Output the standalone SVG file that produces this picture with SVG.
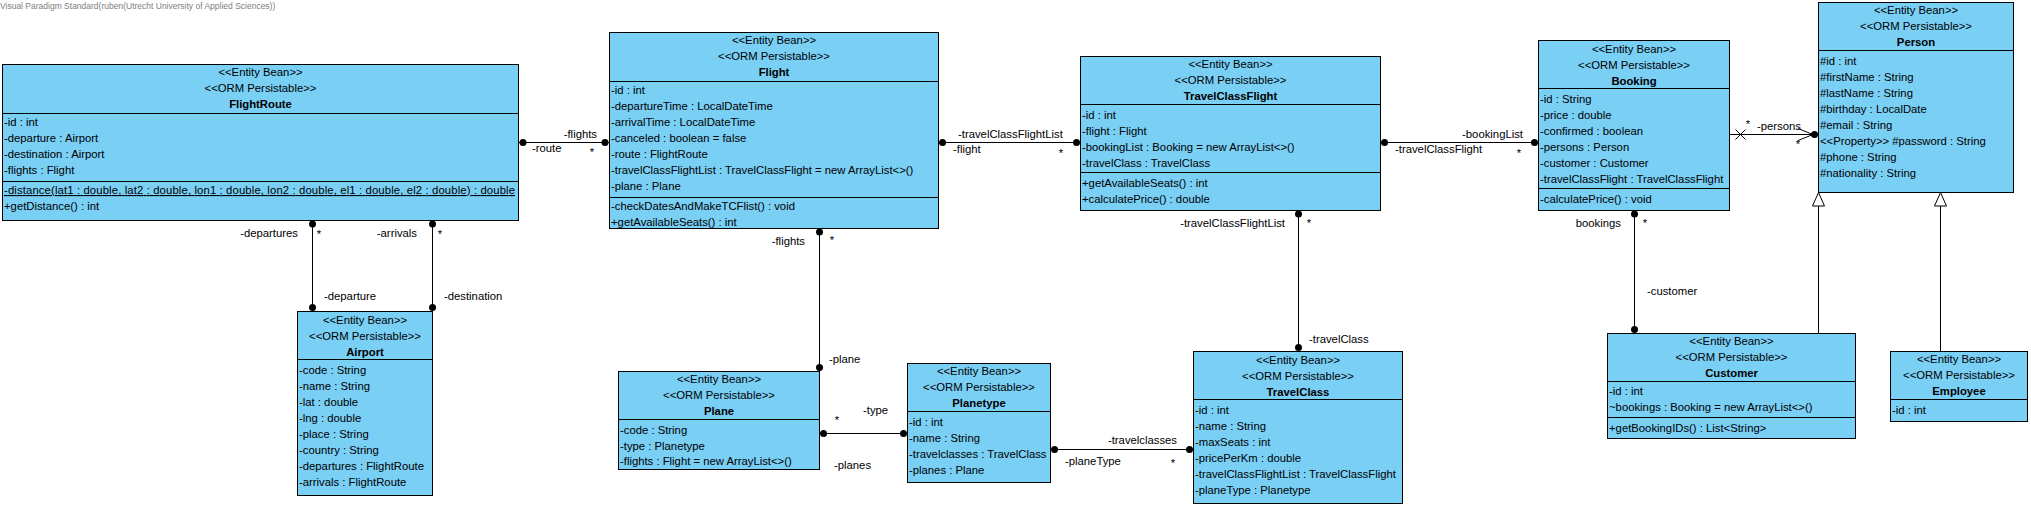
<svg xmlns="http://www.w3.org/2000/svg" width="2031" height="507" viewBox="0 0 2031 507">
<style>
.box{fill:#7acff5;stroke:#000;stroke-width:1}
.sep{stroke:#000;stroke-width:1}
text{font-family:"Liberation Sans",Arial,sans-serif;font-size:11.3px;fill:#000}
.c{text-anchor:middle}
.e{text-anchor:end}
.b{font-weight:bold}
.conn line,.conn polyline{stroke:#000;stroke-width:1;fill:none}
.dot{fill:#000}
.tri{fill:#fff;stroke:#000;stroke-width:1}
.wm{font-size:8.5px;fill:#808080}
</style>
<rect width="2031" height="507" fill="#fff"/>
<text class="wm" x="0" y="9">Visual Paradigm Standard(ruben(Utrecht University of Applied Sciences))</text>

<g id="connectors" class="conn">
  <line x1="518.5" y1="142.5" x2="609.5" y2="142.5"/>
  <circle class="dot" cx="523" cy="142.5" r="3.5"/><circle class="dot" cx="605" cy="142.5" r="3.5"/>
  <text class="e" x="597" y="138">-flights</text><text x="532" y="152">-route</text><text class="c" x="592" y="156">*</text>

  <line x1="938.5" y1="142.5" x2="1080.5" y2="142.5"/>
  <circle class="dot" cx="942.5" cy="142.5" r="3.5"/><circle class="dot" cx="1076.5" cy="142.5" r="3.5"/>
  <text x="958" y="137.5">-travelClassFlightList</text><text x="953" y="152.5">-flight</text><text class="c" x="1061" y="156.5">*</text>

  <line x1="1380.5" y1="142.5" x2="1538.5" y2="142.5"/>
  <circle class="dot" cx="1384.5" cy="142.5" r="3.5"/><circle class="dot" cx="1534.5" cy="142.5" r="3.5"/>
  <text class="e" x="1523" y="137.5">-bookingList</text><text x="1395" y="153">-travelClassFlight</text><text class="c" x="1519" y="156.5">*</text>

  <line x1="1729.5" y1="134.5" x2="1818.5" y2="134.5"/>
  <line x1="1735.5" y1="129.5" x2="1745.5" y2="139.5"/><line x1="1735.5" y1="139.5" x2="1745.5" y2="129.5"/>
  <polyline points="1798,128.5 1813,134.5 1798,140.5"/>
  <circle class="dot" cx="1814.5" cy="134.5" r="3.5"/>
  <text class="c" x="1748" y="128">*</text><text x="1757" y="130">-persons</text><text class="c" x="1798" y="148">*</text>

  <line x1="312.5" y1="220.5" x2="312.5" y2="311.5"/>
  <circle class="dot" cx="312.5" cy="224" r="3.5"/><circle class="dot" cx="312.5" cy="307.5" r="3.5"/>
  <text class="e" x="298" y="237">-departures</text><text class="c" x="319" y="238">*</text><text x="324" y="300">-departure</text>

  <line x1="432.5" y1="220.5" x2="432.5" y2="311.5"/>
  <circle class="dot" cx="432.5" cy="224" r="3.5"/><circle class="dot" cx="432.5" cy="307.5" r="3.5"/>
  <text class="e" x="417" y="237">-arrivals</text><text class="c" x="440" y="238">*</text><text x="444" y="300">-destination</text>

  <line x1="819.5" y1="228.5" x2="819.5" y2="371.5"/>
  <circle class="dot" cx="819.5" cy="232" r="3.5"/><circle class="dot" cx="819.5" cy="367.5" r="3.5"/>
  <text class="e" x="805" y="244.5">-flights</text><text class="c" x="832" y="243.5">*</text><text x="829" y="362.5">-plane</text>

  <line x1="819.5" y1="433.5" x2="907.5" y2="433.5"/>
  <circle class="dot" cx="823.5" cy="433.5" r="3.5"/><circle class="dot" cx="903.5" cy="433.5" r="3.5"/>
  <text class="c" x="837" y="424">*</text><text x="863" y="413.5">-type</text><text x="834" y="468.5">-planes</text>

  <line x1="1050.5" y1="449.5" x2="1193.5" y2="449.5"/>
  <circle class="dot" cx="1054.5" cy="449.5" r="3.5"/><circle class="dot" cx="1189.5" cy="449.5" r="3.5"/>
  <text class="e" x="1177" y="444">-travelclasses</text><text x="1065" y="465">-planeType</text><text class="c" x="1173" y="467">*</text>

  <line x1="1298.5" y1="210.5" x2="1298.5" y2="351.5"/>
  <circle class="dot" cx="1298.5" cy="214" r="3.5"/><circle class="dot" cx="1298.5" cy="347.5" r="3.5"/>
  <text class="e" x="1285" y="226.5">-travelClassFlightList</text><text class="c" x="1309" y="226.5">*</text><text x="1309" y="343">-travelClass</text>

  <line x1="1634.5" y1="210.5" x2="1634.5" y2="333.5"/>
  <circle class="dot" cx="1634.5" cy="214" r="3.5"/><circle class="dot" cx="1634.5" cy="329.5" r="3.5"/>
  <text class="e" x="1621" y="226.5">bookings</text><text class="c" x="1645" y="226.5">*</text><text x="1647" y="295">-customer</text>

  <line x1="1818.5" y1="333.5" x2="1818.5" y2="206"/>
  <polygon class="tri" points="1818.5,192.5 1812.5,206 1824.5,206"/>
  <line x1="1940.5" y1="351.5" x2="1940.5" y2="206"/>
  <polygon class="tri" points="1940.5,192.5 1934.5,206 1946.5,206"/>
</g>

<g id="FlightRoute">
  <rect class="box" x="2.5" y="64.5" width="516" height="156"/>
  <line class="sep" x1="2.5" y1="113.5" x2="518.5" y2="113.5"/>
  <line class="sep" x1="2.5" y1="181.5" x2="518.5" y2="181.5"/>
  <text class="c" x="260.5" y="76">&lt;&lt;Entity Bean&gt;&gt;</text>
  <text class="c" x="260.5" y="92">&lt;&lt;ORM Persistable&gt;&gt;</text>
  <text class="c b" x="260.5" y="108">FlightRoute</text>
  <text x="4" y="126">-id : int</text>
  <text x="4" y="142">-departure : Airport</text>
  <text x="4" y="158">-destination : Airport</text>
  <text x="4" y="174">-flights : Flight</text>
  <text x="4" y="194" text-decoration="underline" textLength="511" lengthAdjust="spacing">-distance(lat1 : double, lat2 : double, lon1 : double, lon2 : double, el1 : double, el2 : double) : double</text>
  <text x="4" y="210">+getDistance() : int</text>
</g>

<g id="Flight">
  <rect class="box" x="609.5" y="32.5" width="329" height="196"/>
  <line class="sep" x1="609.5" y1="81.5" x2="938.5" y2="81.5"/>
  <line class="sep" x1="609.5" y1="197.5" x2="938.5" y2="197.5"/>
  <text class="c" x="774" y="44">&lt;&lt;Entity Bean&gt;&gt;</text>
  <text class="c" x="774" y="60">&lt;&lt;ORM Persistable&gt;&gt;</text>
  <text class="c b" x="774" y="76">Flight</text>
  <text x="611" y="94">-id : int</text>
  <text x="611" y="110">-departureTime : LocalDateTime</text>
  <text x="611" y="126">-arrivalTime : LocalDateTime</text>
  <text x="611" y="142">-canceled : boolean = false</text>
  <text x="611" y="158">-route : FlightRoute</text>
  <text x="611" y="174">-travelClassFlightList : TravelClassFlight = new ArrayList&lt;&gt;()</text>
  <text x="611" y="190">-plane : Plane</text>
  <text x="611" y="210">-checkDatesAndMakeTCFlist() : void</text>
  <text x="611" y="225.5">+getAvailableSeats() : int</text>
</g>

<g id="TravelClassFlight">
  <rect class="box" x="1080.5" y="56.5" width="300" height="154"/>
  <line class="sep" x1="1080.5" y1="104.5" x2="1380.5" y2="104.5"/>
  <line class="sep" x1="1080.5" y1="172.5" x2="1380.5" y2="172.5"/>
  <text class="c" x="1230.5" y="68">&lt;&lt;Entity Bean&gt;&gt;</text>
  <text class="c" x="1230.5" y="84">&lt;&lt;ORM Persistable&gt;&gt;</text>
  <text class="c b" x="1230.5" y="100">TravelClassFlight</text>
  <text x="1082" y="118.5">-id : int</text>
  <text x="1082" y="134.5">-flight : Flight</text>
  <text x="1082" y="150.5">-bookingList : Booking = new ArrayList&lt;&gt;()</text>
  <text x="1082" y="166.5">-travelClass : TravelClass</text>
  <text x="1082" y="186.5">+getAvailableSeats() : int</text>
  <text x="1082" y="202.5">+calculatePrice() : double</text>
</g>

<g id="Booking">
  <rect class="box" x="1538.5" y="40.5" width="191" height="170"/>
  <line class="sep" x1="1538.5" y1="88.5" x2="1729.5" y2="88.5"/>
  <line class="sep" x1="1538.5" y1="188.5" x2="1729.5" y2="188.5"/>
  <text class="c" x="1634" y="52.5">&lt;&lt;Entity Bean&gt;&gt;</text>
  <text class="c" x="1634" y="68.5">&lt;&lt;ORM Persistable&gt;&gt;</text>
  <text class="c b" x="1634" y="84.5">Booking</text>
  <text x="1540" y="102.5">-id : String</text>
  <text x="1540" y="118.5">-price : double</text>
  <text x="1540" y="134.5">-confirmed : boolean</text>
  <text x="1540" y="150.5">-persons : Person</text>
  <text x="1540" y="166.5">-customer : Customer</text>
  <text x="1540" y="182.5">-travelClassFlight : TravelClassFlight</text>
  <text x="1540" y="202.5">-calculatePrice() : void</text>
</g>

<g id="Person">
  <rect class="box" x="1818.5" y="2.5" width="195" height="190"/>
  <line class="sep" x1="1818.5" y1="50.5" x2="2013.5" y2="50.5"/>
  <text class="c" x="1916" y="14">&lt;&lt;Entity Bean&gt;&gt;</text>
  <text class="c" x="1916" y="30">&lt;&lt;ORM Persistable&gt;&gt;</text>
  <text class="c b" x="1916" y="46">Person</text>
  <text x="1820" y="64.5">#id : int</text>
  <text x="1820" y="80.5">#firstName : String</text>
  <text x="1820" y="96.5">#lastName : String</text>
  <text x="1820" y="112.5">#birthday : LocalDate</text>
  <text x="1820" y="128.5">#email : String</text>
  <text x="1820" y="144.5">&lt;&lt;Property&gt;&gt; #password : String</text>
  <text x="1820" y="160.5">#phone : String</text>
  <text x="1820" y="176.5">#nationality : String</text>
</g>

<g id="Customer">
  <rect class="box" x="1607.5" y="333.5" width="248" height="105"/>
  <line class="sep" x1="1607.5" y1="381.5" x2="1855.5" y2="381.5"/>
  <line class="sep" x1="1607.5" y1="417.5" x2="1855.5" y2="417.5"/>
  <text class="c" x="1731.5" y="345">&lt;&lt;Entity Bean&gt;&gt;</text>
  <text class="c" x="1731.5" y="361">&lt;&lt;ORM Persistable&gt;&gt;</text>
  <text class="c b" x="1731.5" y="377">Customer</text>
  <text x="1609" y="395">-id : int</text>
  <text x="1609" y="411">~bookings : Booking = new ArrayList&lt;&gt;()</text>
  <text x="1609" y="432">+getBookingIDs() : List&lt;String&gt;</text>
</g>

<g id="Employee">
  <rect class="box" x="1890.5" y="351.5" width="137" height="70"/>
  <line class="sep" x1="1890.5" y1="399.5" x2="2027.5" y2="399.5"/>
  <text class="c" x="1959" y="363">&lt;&lt;Entity Bean&gt;&gt;</text>
  <text class="c" x="1959" y="379">&lt;&lt;ORM Persistable&gt;&gt;</text>
  <text class="c b" x="1959" y="395">Employee</text>
  <text x="1892" y="413.5">-id : int</text>
</g>

<g id="Airport">
  <rect class="box" x="297.5" y="311.5" width="135" height="184"/>
  <line class="sep" x1="297.5" y1="359.5" x2="432.5" y2="359.5"/>
  <text class="c" x="365" y="323.5">&lt;&lt;Entity Bean&gt;&gt;</text>
  <text class="c" x="365" y="339.5">&lt;&lt;ORM Persistable&gt;&gt;</text>
  <text class="c b" x="365" y="355.5">Airport</text>
  <text x="299" y="373.5">-code : String</text>
  <text x="299" y="389.5">-name : String</text>
  <text x="299" y="405.5">-lat : double</text>
  <text x="299" y="421.5">-lng : double</text>
  <text x="299" y="437.5">-place : String</text>
  <text x="299" y="453.5">-country : String</text>
  <text x="299" y="469.5">-departures : FlightRoute</text>
  <text x="299" y="485.5">-arrivals : FlightRoute</text>
</g>

<g id="Plane">
  <rect class="box" x="618.5" y="371.5" width="201" height="98"/>
  <line class="sep" x1="618.5" y1="419.5" x2="819.5" y2="419.5"/>
  <text class="c" x="719" y="383">&lt;&lt;Entity Bean&gt;&gt;</text>
  <text class="c" x="719" y="399">&lt;&lt;ORM Persistable&gt;&gt;</text>
  <text class="c b" x="719" y="415">Plane</text>
  <text x="620" y="433.5">-code : String</text>
  <text x="620" y="449.5">-type : Planetype</text>
  <text x="620" y="465">-flights : Flight = new ArrayList&lt;&gt;()</text>
</g>

<g id="Planetype">
  <rect class="box" x="907.5" y="363.5" width="143" height="119"/>
  <line class="sep" x1="907.5" y1="411.5" x2="1050.5" y2="411.5"/>
  <text class="c" x="979" y="375">&lt;&lt;Entity Bean&gt;&gt;</text>
  <text class="c" x="979" y="391">&lt;&lt;ORM Persistable&gt;&gt;</text>
  <text class="c b" x="979" y="407">Planetype</text>
  <text x="909" y="425.5">-id : int</text>
  <text x="909" y="441.5">-name : String</text>
  <text x="909" y="457.5">-travelclasses : TravelClass</text>
  <text x="909" y="473.5">-planes : Plane</text>
</g>

<g id="TravelClass">
  <rect class="box" x="1193.5" y="351.5" width="209" height="152"/>
  <line class="sep" x1="1193.5" y1="399.5" x2="1402.5" y2="399.5"/>
  <text class="c" x="1298" y="363.5">&lt;&lt;Entity Bean&gt;&gt;</text>
  <text class="c" x="1298" y="379.5">&lt;&lt;ORM Persistable&gt;&gt;</text>
  <text class="c b" x="1298" y="395.5">TravelClass</text>
  <text x="1195" y="413.5">-id : int</text>
  <text x="1195" y="429.5">-name : String</text>
  <text x="1195" y="445.5">-maxSeats : int</text>
  <text x="1195" y="461.5">-pricePerKm : double</text>
  <text x="1195" y="477.5">-travelClassFlightList : TravelClassFlight</text>
  <text x="1195" y="493.5">-planeType : Planetype</text>
</g>
</svg>
